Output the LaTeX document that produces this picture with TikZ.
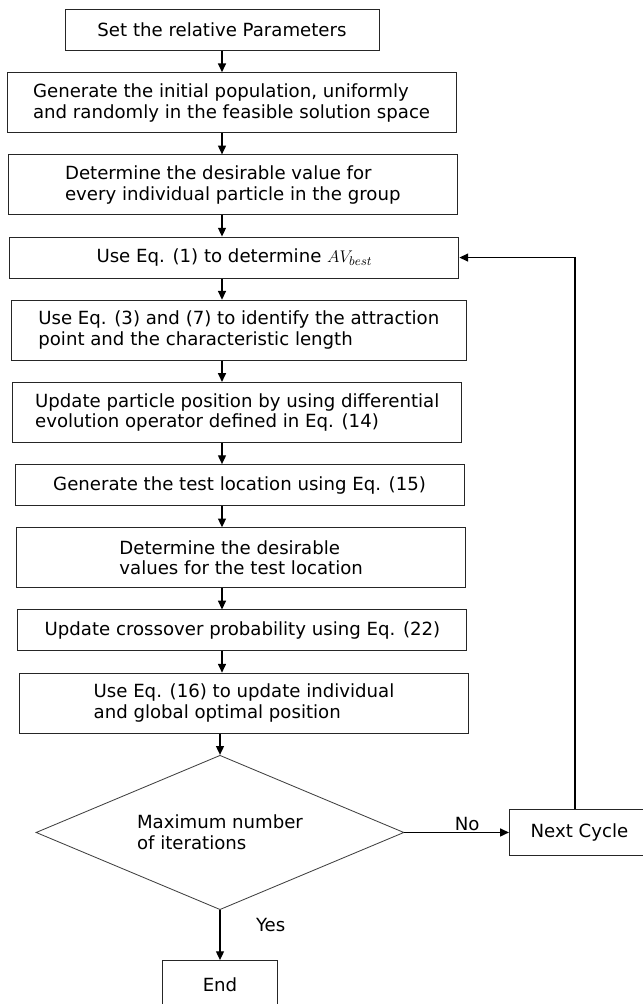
\documentclass[tikz,border=0pt]{standalone}
\usepackage{fontspec}
\setmainfont{DejaVu Sans}
\usetikzlibrary{shapes, arrows.meta, positioning}

\tikzset{
	block/.style={rectangle, draw=black!85, line width=0.7pt, align=left,
		minimum width=11.225cm, minimum height=1.5cm, inner sep=2pt},
	short/.style={block, minimum height=1.025cm},
	decision/.style={diamond, aspect=2.38, draw=black!75, line width=0.6pt, align=left,
		minimum width=9.2cm, minimum height=3.86cm, inner sep=0pt},
	line/.style={draw, line width=0.9pt, -{Triangle[length=2.2mm, width=2mm]}},
	lbl/.style={inner sep=1pt}
}

\begin{document}
\begin{tikzpicture}[node distance=0.53cm, font=\fontsize{12.9}{14.7}\selectfont]
		\useasboundingbox (0,0) rectangle (16.075,-25.1);
		\node[short, minimum width=7.85cm] (s1) at (5.55,-0.75) {Set the relative Parameters};
		\node[block] (s2) [below=of s1, xshift=0.24cm] {Generate the initial population, uniformly\\and randomly in the feasible solution space};
		\node[block] (s3) [below=of s2, xshift=0.03cm] {Determine the desirable value for\\every individual particle in the group};
		\node[short] (s4) [below=of s3, xshift=0.04cm] {Use Eq. (1) to determine $AV_{best}$};
		\node[block, minimum width=11.375cm] (s5) [below=of s4, xshift=0.11cm] {Use Eq. (3) and (7) to identify the attraction\\point and the characteristic length};
		\node[block] (s6) [below=of s5, xshift=-0.04cm] {Update particle position by using differential\\evolution operator defined in Eq. (14)};
		\node[short] (s7) [below=of s6, xshift=0.06cm] {Generate the test location using Eq. (15)};
		\node[block] (s8) [below=of s7, xshift=0.04cm] {Determine the desirable\\values for the test location};
		\node[short] (s9) [below=of s8, xshift=0.03cm] {Update crossover probability using Eq. (22)};
		\node[block] (s10) [below=of s9, xshift=0.04cm] {Use Eq. (16) to update individual\\and global optimal position};
		\node[decision] (dec) [below=of s10, xshift=-0.6cm] {Maximum number\\of iterations};
		\node[block, minimum width=3.5cm, minimum height=1.13cm] (nxt) [right=2.6125cm of dec] {Next Cycle};
		\node[block, minimum width=2.8625cm, minimum height=1.2cm] (fin) [below=1.25cm of dec] {End};
		\coordinate (spine) at (s1.south);

		\foreach \a/\b in {s1/s2, s2/s3, s3/s4, s4/s5, s5/s6, s6/s7, s7/s8, s8/s9, s9/s10}
			\draw[line] (\a.south -| spine) -- (\b.north -| spine);
		\draw[line] (s10.south -| dec.north) -- (dec.north);
		\draw[line] (dec) -- node[lbl, above, pos=0.6] {No} (nxt);
		\draw[line] (dec) -- node[lbl, right=0.85cm, pos=0.3] {Yes} (fin);
		\draw[line] ([xshift=-0.11cm]nxt.north) |- (s4.east);
	\end{tikzpicture}
\end{document}
